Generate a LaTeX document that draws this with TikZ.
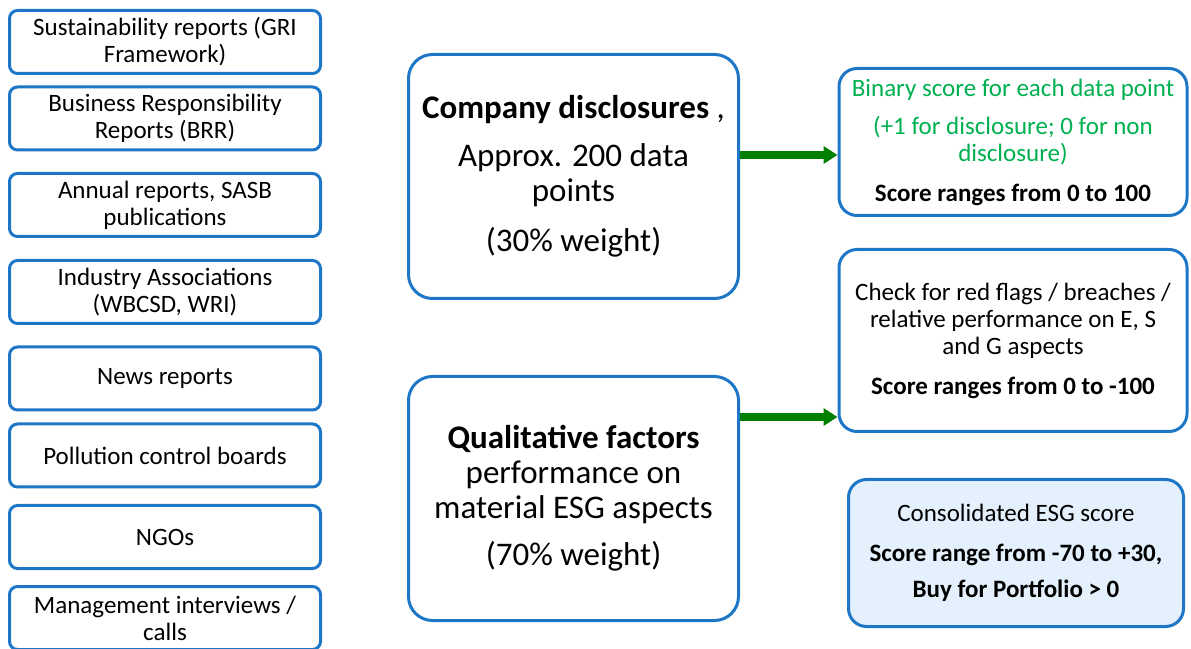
\documentclass[tikz,border=0pt]{standalone}
\usepackage{fontspec}
\setmainfont{Carlito}
\usepackage{tikz}
\usetikzlibrary{positioning, calc, arrows.meta}
\definecolor{boxblue}{RGB}{30,118,198}
\definecolor{arrowgreen}{RGB}{0,128,0}
\definecolor{textgreen}{RGB}{0,176,80}
\definecolor{lightfill}{RGB}{228,240,252}
\tikzstyle{sourcebox} = [draw=boxblue, line width=3pt, rounded corners=8pt,
minimum width = 311pt, minimum height = 63pt,
align=center, inner sep = 2pt,
font=\fontsize{25}{27}\selectfont]
\tikzstyle{mainbox} = [draw=boxblue, line width=3pt, rounded corners=24pt,
minimum width = 330pt, minimum height = 244pt,
align=center, inner sep = 4pt,
font=\fontsize{33}{35}\selectfont]
\tikzstyle{scorebox} = [draw=boxblue, line width=3pt, rounded corners=18pt,
minimum width = 348pt,
align=center, inner sep = 4pt,
font=\fontsize{25}{27}\selectfont]
\tikzstyle{flowarrow} = [draw=arrowgreen, line width=8pt,
-{Triangle[length=14pt, width=17pt]}]

\begin{document}
\begin{tikzpicture}[x=1pt, y=1pt]
	\useasboundingbox (0,0) rectangle (1191,648);
	\coordinate (c) at (573.5, 471.5);
	\coordinate (q) at (573.5, 149.5);
	%% Sources
	\node[sourcebox](gri) at (165, 606) {Sustainability reports (GRI\\ Framework)};
	\node[sourcebox](brr) at (165, 529.5) {Business Responsibility\\ Reports (BRR)};
	\node[sourcebox](annual) at (165, 443) {Annual reports, SASB\\ publications};
	\node[sourcebox](industry) at (165, 356) {Industry Associations\\ (WBCSD, WRI)};
	\node[sourcebox](news) at (165, 269.5) {News reports};
	\node[sourcebox](pcb) at (165, 192.5) {Pollution control boards};
	\node[sourcebox](ngo) at (165, 111) {NGOs};
	\node[sourcebox](mgmt) at (165, 30) {Management interviews /\\ calls};
	%% Two pillars
	\node[mainbox](comp) at (c) {
		\textbf{Company disclosures} ,\\[13pt]
		Approx. 200 data\\ points\\[15pt]
		(30\% weight)
	};
	\node[mainbox](qual) at (q) {
		\textbf{Qualitative factors}\\
		performance on\\ material ESG aspects\\[12pt]
		(70\% weight)
	};
	%% Scores
	\node[scorebox, minimum height=147pt](binary) at (1013, 506) {
		\textcolor{textgreen}{Binary score for each data point}\\[11pt]
		\textcolor{textgreen}{(+1 for disclosure; 0 for non}\\
		\textcolor{textgreen}{disclosure)}\\[13pt]
		\textbf{Score ranges from 0 to 100}
	};
	\node[scorebox, minimum height=182pt](flags) at (1013, 307.5) {
		Check for red flags / breaches /\\
		relative performance on E, S\\ and G aspects\\[13pt]
		\textbf{Score ranges from 0 to -100}
	};
	\node[scorebox, fill=lightfill, minimum width=335pt, minimum height=147pt](total) at (1016, 95) {
		Consolidated ESG score\\[13pt]
		\textbf{Score range from -70 to +30,}\\[9pt]
		\textbf{Buy for Portfolio > 0}
	};
	%% Pillars to scores
	\draw[flowarrow] ([yshift=21.5pt]comp.east) -- ([yshift=21.5pt]comp.east -| binary.west);
	\draw[flowarrow] ([yshift=81.5pt]qual.east) -- ([yshift=81.5pt]qual.east -| flags.west);
\end{tikzpicture}
\end{document}
